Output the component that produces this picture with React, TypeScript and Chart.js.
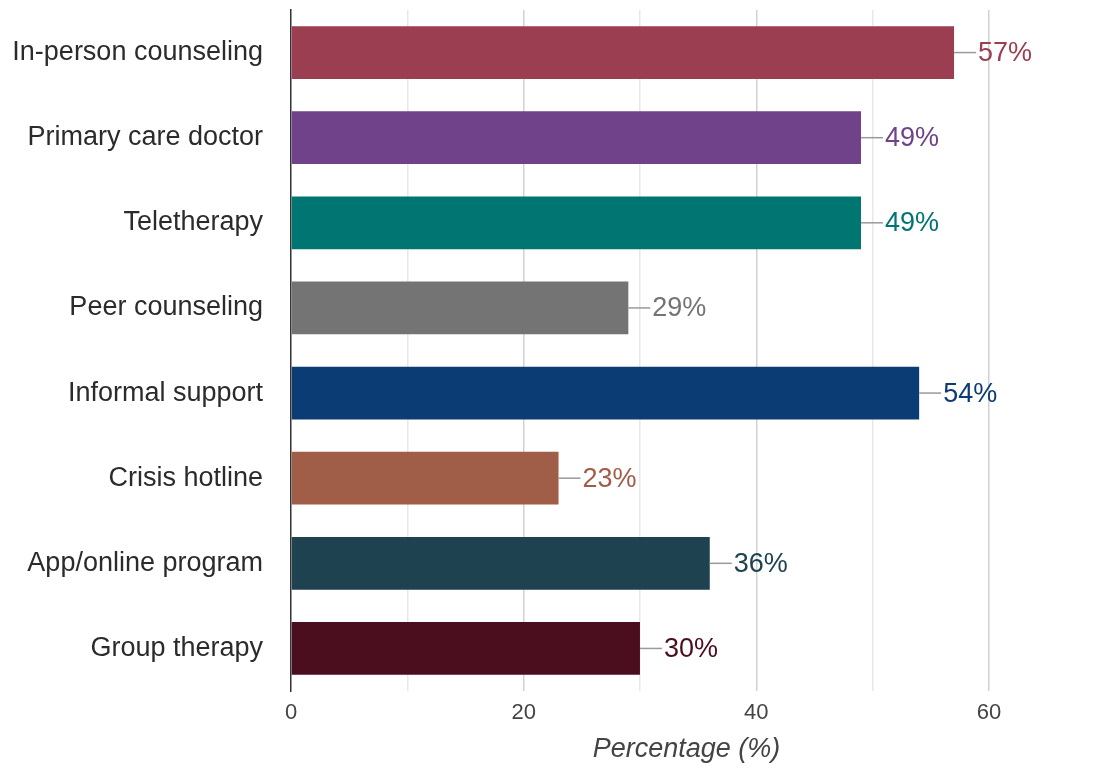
import React, { useEffect, useRef } from "react";
import { Chart, registerables } from "chart.js";

Chart.register(...registerables);

const categories = [
  "In-person counseling",
  "Primary care doctor",
  "Teletherapy",
  "Peer counseling",
  "Informal support",
  "Crisis hotline",
  "App/online program",
  "Group therapy",
];
const values = [57, 49, 49, 29, 54, 23, 36, 30];
const barColors = [
  "#9c3e51",
  "#6f428a",
  "#007571",
  "#747474",
  "#0b3c74",
  "#a05d48",
  "#1f4251",
  "#4b0e1f",
];
const xTickLabels: Record<number, string> = { 0: "0", 20: "20", 40: "40", 60: "60" };
const xTitle = "Percentage (%)";

const FONT = "'Liberation Sans', Arial, sans-serif";

const valueLabelPlugin = {
  id: "valueLabels",
  afterDatasetsDraw(chart: any) {
    const ctx = chart.ctx;
    const meta = chart.getDatasetMeta(0);
    ctx.save();
    meta.data.forEach((bar: any, i: number) => {
      const x = bar.x;
      const y = bar.y;
      ctx.strokeStyle = "#9a9a9a";
      ctx.lineWidth = 1.5;
      ctx.beginPath();
      ctx.moveTo(x, y);
      ctx.lineTo(x + 22, y);
      ctx.stroke();
      ctx.fillStyle = barColors[i];
      ctx.font = `27px ${FONT}`;
      ctx.textAlign = "left";
      ctx.textBaseline = "middle";
      ctx.fillText(`${values[i]}%`, x + 24, y + 1);
    });
    ctx.restore();
  },
};

export default function App() {
  const canvasRef = useRef<HTMLCanvasElement | null>(null);

  useEffect(() => {
    if (!canvasRef.current) return;
    const chart = new Chart(canvasRef.current, {
      type: "bar",
      data: {
        labels: categories,
        datasets: [
          {
            data: values,
            backgroundColor: barColors,
            borderWidth: 0,
            categoryPercentage: 1,
            barPercentage: 0.62,
          },
        ],
      },
      plugins: [valueLabelPlugin],
      options: {
        indexAxis: "y",
        animation: false,
        responsive: true,
        maintainAspectRatio: false,
        layout: { padding: { top: 10, right: 18, bottom: 0, left: 0 } },
        plugins: {
          legend: { display: false },
          tooltip: { enabled: false },
        },
        scales: {
          x: {
            min: 0,
            max: 68,
            afterBuildTicks: (scale: any) => {
              scale.ticks = scale.ticks.filter((t: any) => t.value % 10 === 0);
            },
            afterFit: (scale: any) => {
              scale.height = 78;
              scale.paddingLeft = 0;
              scale.paddingRight = 0;
            },
            ticks: {
              stepSize: 10,
              padding: 9,
              color: "#444",
              font: { family: FONT, size: 22 },
              callback: (v: any) => xTickLabels[Number(v)] ?? "",
            },
            grid: {
              drawTicks: false,
              lineWidth: 1.5,
              color: (c: any) => {
                const v = c.tick ? c.tick.value : 0;
                if (v === 0) return "rgba(0,0,0,0)";
                return v % 20 === 0 ? "#d2d2d2" : "#e8e8e8";
              },
            },
            border: { display: false },
            title: {
              display: true,
              text: xTitle,
              color: "#444",
              font: { family: FONT, size: 27, style: "italic" },
              padding: { top: 4, bottom: 3 },
            },
          },
          y: {
            afterFit: (scale: any) => {
              scale.width = 291;
              scale.paddingTop = 0;
              scale.paddingBottom = 0;
            },
            ticks: {
              padding: 4,
              color: "#2b2b2b",
              font: { family: FONT, size: 27 },
            },
            grid: { display: false, drawTicks: true, tickLength: 24 },
            border: { display: true, color: "#333", width: 1.5 },
          },
        },
      },
    });
    return () => chart.destroy();
  }, []);

  return (
    <div style={{ position: "fixed", left: 0, top: 0, width: 1100, height: 769, background: "#fff" }}>
      <canvas ref={canvasRef} />
    </div>
  );
}
